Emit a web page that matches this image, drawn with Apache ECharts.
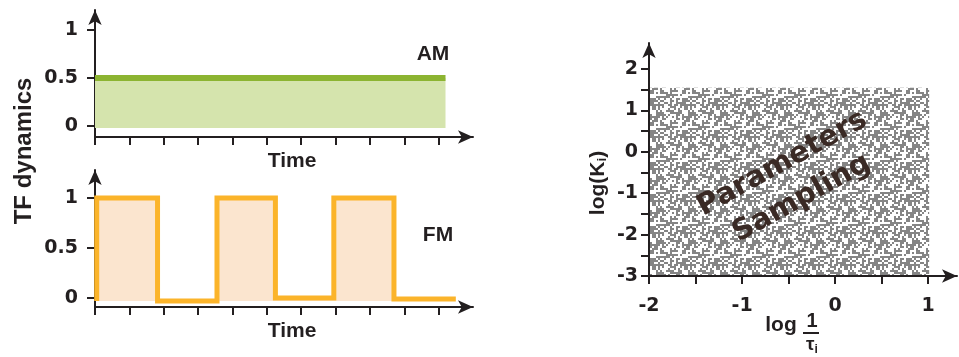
<!DOCTYPE html>
<html>
<head>
<meta charset="utf-8">
<script src="https://cdn.jsdelivr.net/npm/echarts@6/dist/echarts.min.js"></script>
<style>
  html, body { margin: 0; padding: 0; background: #fff; }
  #chart { width: 959px; height: 357px; }
</style>
</head>
<body>
<div id="chart"></div>
<script>
// data
const timeTicks = [0, 1, 2, 3, 4, 5, 6, 7, 8, 9, 10]
const levelTicks = [0, 0.5, 1]

const amTimes = [0, 10.2]
const amLevels = [0.5, 0.5]

const fmTimes = [0.05, 0.05, 1.82, 1.82, 3.55, 3.55, 5.25, 5.25, 6.95, 6.95, 8.7, 8.7, 10.5]
const fmLevels = [-0.03, 1, 1, -0.03, -0.03, 1, 1, 0, 0, 1, 1, -0.01, -0.01]

const logTauTicks = [-2, -1.5, -1, -0.5, 0, 0.5, 1]
const logTauLabels = [-2, -1, 0, 1]
const logKTicks = [-3, -2.5, -2, -1.5, -1, -0.5, 0, 0.5, 1, 1.5, 2]
const logKLabels = [-3, -2, -1, 0, 1, 2]

// sampled parameter box: [logTau min, logTau max, logK min, logK max]
const sampleRange = [-2, 1, -3, 1.55]

const THEME = {
  AXIS: '#231f20',
  FONT: '"DejaVu Sans", Verdana, sans-serif',
  WORD_FONT: '"Liberation Sans", Arial, sans-serif',
  AM_LINE: '#8cb431',
  AM_FILL: '#d5e4ad',
  FM_LINE: '#fbb42a',
  FM_FILL: '#fbe5cf',
  DOTS: '#858585',
  TITLE: '#3a2a25'
}

const zip = (xs, ys) => xs.map((x, i) => [x, ys[i]])

// speckle texture (fill pattern only) for the sampled box
function speckle () {
  const n = 16
  const c = document.createElement('canvas')
  c.width = n * 2
  c.height = n * 2
  const ctx = c.getContext('2d')
  ctx.fillStyle = '#fff'
  ctx.fillRect(0, 0, c.width, c.height)
  ctx.fillStyle = THEME.DOTS
  for (let by = 0; by < n; by++) {
    for (let bx = 0; bx < n; bx++) {
      const h = ((bx * 73856093) ^ (by * 19349663) ^ (bx * by * 83492791)) >>> 0
      if (h % 100 < 50) ctx.fillRect(bx * 2, by * 2, 2, 2)
    }
  }
  return c
}

function axisBase (extra) {
  return Object.assign({
    type: 'value',
    splitLine: { show: false },
    axisLine: {
      show: true,
      onZero: false,
      symbol: ['none', 'arrow'],
      symbolSize: [10, 15],
      lineStyle: { color: THEME.AXIS, width: 2 }
    },
    axisTick: { show: true, inside: false, length: 8, lineStyle: { color: THEME.AXIS, width: 2 } },
    axisLabel: { color: THEME.AXIS, fontSize: 19, fontWeight: 'bold', fontFamily: THEME.FONT },
    nameTextStyle: { color: THEME.AXIS, fontSize: 19, fontWeight: 'bold', fontFamily: THEME.FONT }
  }, extra)
}

function timeAxis (gridIndex) {
  return axisBase({
    gridIndex,
    min: 0,
    max: 11,
    name: 'Time',
    nameLocation: 'middle',
    nameGap: 14,
    nameTextStyle: { color: THEME.AXIS, fontSize: 21, fontWeight: 'bold', fontFamily: THEME.WORD_FONT, padding: [0, 0, 0, 16] },
    axisTick: { show: true, length: 8, customValues: timeTicks, lineStyle: { color: THEME.AXIS, width: 2 } },
    axisLabel: { show: false }
  })
}

function levelAxis (gridIndex, min, max) {
  const ax = axisBase({ gridIndex, min, max })
  ax.axisTick.customValues = levelTicks
  ax.axisLabel.customValues = levelTicks
  ax.axisLabel.margin = 17
  return ax
}

const chart = echarts.init(document.getElementById('chart'))

const logTauAxis = axisBase({ gridIndex: 2, min: -2, max: 1.31 })
logTauAxis.axisTick.customValues = logTauTicks
logTauAxis.axisLabel.customValues = logTauLabels
logTauAxis.axisLabel.margin = 21

const logKAxis = axisBase({ gridIndex: 2, min: -3, max: 2.63 })
logKAxis.axisTick.customValues = logKTicks
logKAxis.axisLabel.customValues = logKLabels
logKAxis.axisLabel.margin = 11

const options = {
  animation: false,
  backgroundColor: '#fff',
  grid: [
    { left: 95, top: 10, width: 378, height: 127 },
    { left: 95, top: 170, width: 378, height: 137 },
    { left: 649, top: 43, width: 308, height: 233 }
  ],
  xAxis: [timeAxis(0), timeAxis(1), logTauAxis],
  yAxis: [levelAxis(0, -0.115, 1.21), levelAxis(1, -0.09, 1.28), logKAxis],
  series: [
    {
      name: 'AM',
      type: 'line',
      xAxisIndex: 0,
      yAxisIndex: 0,
      showSymbol: false,
      data: zip(amTimes, amLevels),
      lineStyle: { color: THEME.AM_LINE, width: 6 },
      areaStyle: { color: THEME.AM_FILL, opacity: 1, origin: -0.02 },
      z: 1
    },
    {
      name: 'FM',
      type: 'line',
      xAxisIndex: 1,
      yAxisIndex: 1,
      showSymbol: false,
      data: zip(fmTimes, fmLevels),
      lineStyle: { color: THEME.FM_LINE, width: 5, join: 'miter' },
      areaStyle: { color: THEME.FM_FILL, opacity: 1, origin: -0.03 },
      z: 1
    },
    {
      name: 'Sampling',
      type: 'custom',
      xAxisIndex: 2,
      yAxisIndex: 2,
      data: [sampleRange],
      renderItem: function (params, api) {
        const p0 = api.coord([api.value(0), api.value(3)])
        const p1 = api.coord([api.value(1), api.value(2)])
        return {
          type: 'rect',
          shape: { x: p0[0] + 1, y: p0[1], width: p1[0] - p0[0], height: p1[1] - p0[1] - 1 },
          style: { fill: { image: speckle(), repeat: 'repeat' } }
        }
      },
      z: 1
    }
  ],
  graphic: [
    {
      type: 'text', x: 24, y: 151, rotation: Math.PI / 2, z: 10,
      style: { text: 'TF dynamics', fill: THEME.AXIS, font: 'bold 24px ' + THEME.WORD_FONT, align: 'center', verticalAlign: 'middle' }
    },
    {
      type: 'text', x: 433, y: 54, z: 10,
      style: { text: 'AM', fill: THEME.AXIS, font: 'bold 21px ' + THEME.WORD_FONT, align: 'center', verticalAlign: 'middle' }
    },
    {
      type: 'text', x: 438, y: 235, z: 10,
      style: { text: 'FM', fill: THEME.AXIS, font: 'bold 21px ' + THEME.WORD_FONT, align: 'center', verticalAlign: 'middle' }
    },
    {
      type: 'text', x: 598, y: 183, rotation: Math.PI / 2, z: 10,
      style: {
        text: 'log(K{s|i})', fill: THEME.AXIS, font: 'bold 21px ' + THEME.WORD_FONT,
        align: 'center', verticalAlign: 'middle',
        rich: { s: { fontSize: 13, fontWeight: 'bold', fontFamily: THEME.WORD_FONT, fill: THEME.AXIS, verticalAlign: 'bottom', lineHeight: 22 } }
      }
    },
    {
      type: 'text', x: 781, y: 325, z: 10,
      style: { text: 'log', fill: THEME.AXIS, font: 'bold 21px ' + THEME.WORD_FONT, align: 'center', verticalAlign: 'middle' }
    },
    {
      type: 'text', x: 812, y: 321, z: 10,
      style: { text: '1', fill: THEME.AXIS, font: 'bold 20px ' + THEME.WORD_FONT, align: 'center', verticalAlign: 'middle' }
    },
    {
      type: 'line', z: 10,
      shape: { x1: 803, y1: 333, x2: 819, y2: 333 },
      style: { stroke: THEME.AXIS, lineWidth: 2 }
    },
    {
      type: 'text', x: 812, y: 345, z: 10,
      style: {
        text: 'τ{s|i}', fill: THEME.AXIS, font: 'bold 19px ' + THEME.WORD_FONT, align: 'center', verticalAlign: 'middle',
        rich: { s: { fontSize: 12, fontWeight: 'bold', fontFamily: THEME.WORD_FONT, fill: THEME.AXIS, verticalAlign: 'bottom', lineHeight: 21 } }
      }
    },
    {
      type: 'text', x: 792, y: 181, rotation: 29 * Math.PI / 180, z: 10,
      style: {
        text: 'Parameters\nSampling', fill: THEME.TITLE, font: 'bold 29px ' + THEME.FONT,
        lineHeight: 40, align: 'center', verticalAlign: 'middle'
      }
    }
  ]
}

chart.setOption(options)
</script>
</body>
</html>
